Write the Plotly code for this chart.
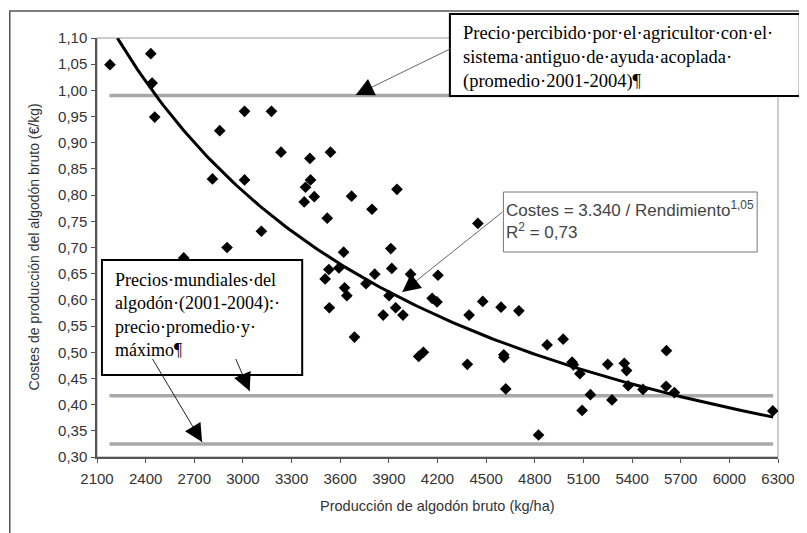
import numpy as np
import plotly.graph_objects as go

# ---------------- data ----------------
yield_kg_ha = [2180, 2432, 2440, 2456, 2635, 2812, 2857, 2902, 3010, 3010,
               3114, 3176, 3235, 3413, 3417, 3386, 3440, 3378, 3520, 3540,
               3507, 3530, 3533, 3592, 3621, 3627, 3641, 3670, 3688, 3759,
               3796, 3813, 3865, 3901, 3912, 3918, 3942, 3950, 3987, 4034,
               4084, 4113, 4167, 4197, 4203, 4384, 4395, 4449, 4479, 4592,
               4609, 4610, 4621, 4702, 4823, 4876, 4975, 5030, 5038, 5078,
               5092, 5143, 5250, 5276, 5352, 5366, 5376, 5467, 5612, 5610,
               5661, 6268]
cost_eur_kg = [1.049, 1.070, 1.014, 0.949, 0.680, 0.831, 0.923, 0.700, 0.960, 0.829,
               0.731, 0.960, 0.882, 0.870, 0.829, 0.815, 0.797, 0.787, 0.756, 0.882,
               0.640, 0.658, 0.585, 0.661, 0.691, 0.623, 0.608, 0.798, 0.529, 0.631,
               0.773, 0.649, 0.571, 0.608, 0.698, 0.660, 0.585, 0.811, 0.571, 0.649,
               0.492, 0.500, 0.603, 0.596, 0.647, 0.477, 0.571, 0.746, 0.597, 0.586,
               0.495, 0.490, 0.430, 0.579, 0.342, 0.514, 0.525, 0.481, 0.476, 0.459,
               0.389, 0.419, 0.477, 0.409, 0.479, 0.465, 0.436, 0.429, 0.503, 0.435,
               0.423, 0.388]

# trend line (power curve as drawn)
trend_coef = 3231.0
trend_exp = 1.036
trend_x_range = [2226, 6270]

# price reference lines
price_levels = [0.99, 0.417, 0.325]
price_x_range = [2177, 6270]

x_ticks = [2100, 2400, 2700, 3000, 3300, 3600, 3900, 4200, 4500, 4800, 5100, 5400, 5700, 6000, 6300]
y_ticks = [0.30, 0.35, 0.40, 0.45, 0.50, 0.55, 0.60, 0.65, 0.70, 0.75, 0.80, 0.85, 0.90, 0.95, 1.00, 1.05, 1.10]
y_tick_labels = ["0,30", "0,35", "0,40", "0,45", "0,50", "0,55", "0,60", "0,65", "0,70", "0,75",
                 "0,80", "0,85", "0,90", "0,95", "1,00", "1,05", "1,10"]

# ---------------- layout helpers ----------------
# the page body adds an 8px offset; the figure is sized to fit the window
OFF = 8
W, H = 799, 525
L, T = 97 - OFF, 38 - OFF
PW, PH = 687, 419
R, B = W - L - PW, H - T - PH


def px(xs):  # screen x -> paper
    return (xs - OFF - L) / PW


def py(ys):  # screen y -> paper
    return (T + PH - (ys - OFF)) / PH


fig = go.Figure()

for lvl in price_levels:
    fig.add_trace(go.Scatter(x=price_x_range, y=[lvl, lvl], mode="lines",
                             line=dict(color="#a8a8a8", width=3.5),
                             hoverinfo="skip", showlegend=False))

fig.add_trace(go.Scatter(x=yield_kg_ha, y=cost_eur_kg, mode="markers",
                         marker=dict(symbol="diamond", size=9, color="black"),
                         showlegend=False))

tx = np.linspace(trend_x_range[0], trend_x_range[1], 200)
fig.add_trace(go.Scatter(x=tx, y=trend_coef / tx ** trend_exp, mode="lines",
                         line=dict(color="black", width=3), showlegend=False,
                         hoverinfo="skip"))

shapes = [
    dict(type="rect", xref="paper", yref="paper", x0=px(9), x1=px(806), y0=py(560), y1=py(11),
         line=dict(color="#555555", width=1.5), layer="below"),
    dict(type="rect", xref="paper", yref="paper", x0=0, x1=1, y0=0, y1=1,
         line=dict(color="#9a9a9a", width=1), layer="below"),
    dict(type="rect", xref="paper", yref="paper", x0=px(453), x1=px(806), y0=py(96), y1=py(14),
         line=dict(color="black", width=2), fillcolor="white", layer="above"),
    dict(type="rect", xref="paper", yref="paper", x0=px(102), x1=px(304), y0=py(375), y1=py(260),
         line=dict(color="black", width=2), fillcolor="white", layer="above"),
    dict(type="rect", xref="paper", yref="paper", x0=px(507), x1=px(763), y0=py(252), y1=py(192),
         line=dict(color="#777777", width=1), fillcolor="white", layer="above"),
]

annotations = [
    dict(xref="paper", yref="paper", x=px(464), y=py(21), xanchor="left", yanchor="top",
         align="left", showarrow=False,
         font=dict(family="Liberation Serif", size=18.5, color="black"),
         text="Precio·percibido·por·el·agricultor·con·el·<br>sistema·antiguo·de·ayuda·acoplada·<br>(promedio·2001-2004)¶"),
    dict(xref="paper", yref="paper", x=px(113), y=py(268), xanchor="left", yanchor="top",
         align="left", showarrow=False,
         font=dict(family="Liberation Serif", size=18, color="black"),
         text="Precios·mundiales·del<br>algodón·(2001-2004):·<br>precio·promedio·y·<br>máximo¶"),
    dict(xref="paper", yref="paper", x=px(508), y=py(196), xanchor="left", yanchor="top",
         align="left", showarrow=False, font=dict(family="Liberation Sans", size=17, color="#444444"),
         text="Costes = 3.340 / Rendimiento<sup>1,05</sup><br>R<sup>2</sup> = 0,73"),
    dict(xref="paper", yref="paper", x=px(33), y=py(247), xanchor="center", yanchor="middle",
         textangle=-90, showarrow=False, font=dict(family="Liberation Sans", size=14, color="#333333"),
         text="Costes de producción del algodón bruto (€/kg)"),
    dict(xref="paper", yref="paper", x=px(441), y=py(506), xanchor="center", yanchor="middle",
         showarrow=False, font=dict(family="Liberation Sans", size=14.5, color="#333333"),
         text="Producción de algodón bruto (kg/ha)"),
]

arrows = [
    # (head x, head y, tail x, tail y, line color) in screen pixels
    (358, 95, 453, 49, "#666666"),
    (405, 292, 506, 212, "#666666"),
    (203, 442, 153, 359, "#222222"),
    (251, 391, 237, 359, "#222222"),
]
for hx, hy, tx_, ty, col in arrows:
    # thin shaft
    shapes.append(dict(type="line", xref="paper", yref="paper", x0=px(tx_), y0=py(ty),
                       x1=px(hx), y1=py(hy), line=dict(color=col, width=1), layer="above"))
    # black arrowhead
    dx, dy = tx_ - hx, ty - hy
    n = (dx * dx + dy * dy) ** 0.5
    annotations.append(dict(xref="paper", yref="paper", x=px(hx), y=py(hy),
                            ax=dx / n * 16, ay=dy / n * 16,
                            text="", showarrow=True, arrowhead=2, arrowsize=3.6, arrowwidth=1,
                            arrowcolor="black", standoff=0))

fig.update_layout(
    width=W, height=H,
    margin=dict(l=L, r=R, t=T, b=B),
    plot_bgcolor="white", paper_bgcolor="white",
    shapes=shapes, annotations=annotations,
    showlegend=False,
    font=dict(family="Liberation Sans", color="#333333"),
)
fig.update_xaxes(range=[2100, 6300], tickvals=x_ticks, ticktext=[str(v) for v in x_ticks],
                 showgrid=False, zeroline=False, showline=True, linecolor="#555555", linewidth=1.5,
                 ticks="outside", ticklen=4, tickcolor="#555555",
                 tickfont=dict(family="Liberation Sans", size=15, color="#333333"),
                 ticklabelstandoff=3)
fig.update_yaxes(range=[0.30, 1.10], tickvals=y_ticks, ticktext=y_tick_labels,
                 showgrid=False, zeroline=False, showline=True, linecolor="#555555", linewidth=1.5,
                 ticks="outside", ticklen=4, tickcolor="#555555",
                 tickfont=dict(family="Liberation Sans", size=15, color="#333333"),
                 ticklabelstandoff=1)

fig.write_html("out.html")
